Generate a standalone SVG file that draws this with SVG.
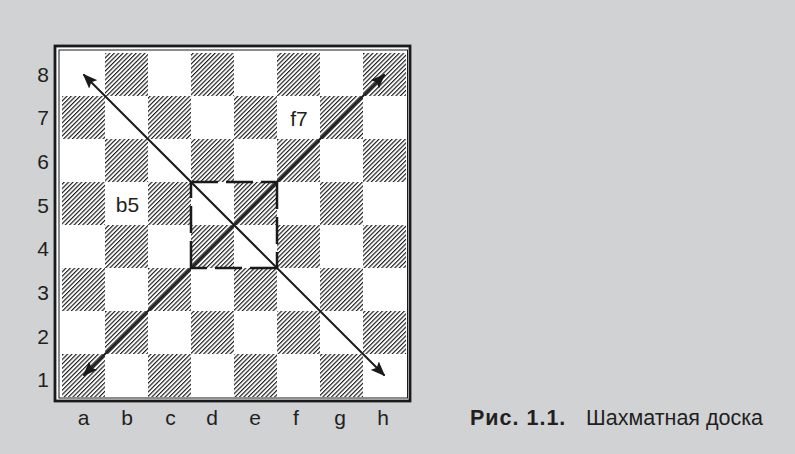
<svg xmlns="http://www.w3.org/2000/svg" width="795" height="454" viewBox="0 0 795 454">
<style>
.lbl{font-family:"Liberation Sans",Arial,sans-serif;font-size:21px;fill:#231f20;text-anchor:middle}
.cap{font-family:"Liberation Sans",Arial,sans-serif;font-size:21.5px;fill:#231f20}
.d{fill:url(#hatch)}
</style>
<defs>
<pattern id="hatch" width="3.1" height="10" patternUnits="userSpaceOnUse" patternTransform="rotate(45)">
<rect width="1.15" height="10" fill="#1a1a1a"/>
</pattern>
<marker id="ah" viewBox="0 0 15 12" refX="14" refY="6" markerWidth="15" markerHeight="12" markerUnits="userSpaceOnUse" orient="auto-start-reverse">
<path d="M0,0 L15,6 L0,12 L3,6 z" fill="#1a1a1a"/>
</marker>
</defs>
<rect width="795" height="454" fill="#d1d2d4"/>
<g id="frame">
<rect x="55" y="46" width="355" height="355" fill="#fff" stroke="#1a1a1a" stroke-width="2.8"/>
<rect x="59" y="50" width="348.5" height="348" fill="none" stroke="#1a1a1a" stroke-width="1"/>
</g>
<g id="board">
<rect x="62" y="53" width="344" height="344" fill="#fff"/>
<rect class="d" x="105" y="53" width="43" height="43"/>
<rect class="d" x="191" y="53" width="43" height="43"/>
<rect class="d" x="277" y="53" width="43" height="43"/>
<rect class="d" x="363" y="53" width="43" height="43"/>
<rect class="d" x="62" y="96" width="43" height="43"/>
<rect class="d" x="148" y="96" width="43" height="43"/>
<rect class="d" x="234" y="96" width="43" height="43"/>
<rect class="d" x="320" y="96" width="43" height="43"/>
<rect class="d" x="105" y="139" width="43" height="43"/>
<rect class="d" x="191" y="139" width="43" height="43"/>
<rect class="d" x="277" y="139" width="43" height="43"/>
<rect class="d" x="363" y="139" width="43" height="43"/>
<rect class="d" x="62" y="182" width="43" height="43"/>
<rect class="d" x="148" y="182" width="43" height="43"/>
<rect class="d" x="234" y="182" width="43" height="43"/>
<rect class="d" x="320" y="182" width="43" height="43"/>
<rect class="d" x="105" y="225" width="43" height="43"/>
<rect class="d" x="191" y="225" width="43" height="43"/>
<rect class="d" x="277" y="225" width="43" height="43"/>
<rect class="d" x="363" y="225" width="43" height="43"/>
<rect class="d" x="62" y="268" width="43" height="43"/>
<rect class="d" x="148" y="268" width="43" height="43"/>
<rect class="d" x="234" y="268" width="43" height="43"/>
<rect class="d" x="320" y="268" width="43" height="43"/>
<rect class="d" x="105" y="311" width="43" height="43"/>
<rect class="d" x="191" y="311" width="43" height="43"/>
<rect class="d" x="277" y="311" width="43" height="43"/>
<rect class="d" x="363" y="311" width="43" height="43"/>
<rect class="d" x="62" y="354" width="43" height="43"/>
<rect class="d" x="148" y="354" width="43" height="43"/>
<rect class="d" x="234" y="354" width="43" height="43"/>
<rect class="d" x="320" y="354" width="43" height="43"/>
</g>
<g id="center-square" fill="none" stroke="#1a1a1a" stroke-width="2.5" stroke-dasharray="27 8">
<path d="M191,182 H277"/>
<path d="M277,182 V268"/>
<path d="M277,268 H191"/>
<path d="M191,268 V182"/>
</g>
<g id="connectors" stroke="#1a1a1a" stroke-width="2" fill="none">
<line x1="83.5" y1="375.5" x2="384.5" y2="74.5" marker-start="url(#ah)" marker-end="url(#ah)"/>
<line x1="83.5" y1="74.5" x2="384.5" y2="375.5" marker-start="url(#ah)" marker-end="url(#ah)"/>
</g>
<g id="square-labels">
<text class="lbl" x="127.5" y="212">b5</text>
<text class="lbl" x="299" y="126">f7</text>
</g>
<g id="rank-labels">
<text class="lbl" x="43" y="81.5">8</text>
<text class="lbl" x="43" y="125">7</text>
<text class="lbl" x="43" y="169">6</text>
<text class="lbl" x="43" y="212.5">5</text>
<text class="lbl" x="43" y="256">4</text>
<text class="lbl" x="43" y="299.5">3</text>
<text class="lbl" x="43" y="343.5">2</text>
<text class="lbl" x="43" y="387">1</text>
</g>
<g id="file-labels">
<text class="lbl" x="83.5" y="425">a</text>
<text class="lbl" x="127" y="425">b</text>
<text class="lbl" x="170.5" y="425">c</text>
<text class="lbl" x="212" y="425">d</text>
<text class="lbl" x="255" y="425">e</text>
<text class="lbl" x="296" y="425">f</text>
<text class="lbl" x="340" y="425">g</text>
<text class="lbl" x="383" y="425">h</text>
</g>
<g id="caption">
<text class="cap" x="470" y="425"><tspan font-weight="bold" letter-spacing="1">Рис. 1.1.</tspan><tspan x="586">Шахматная доска</tspan></text>
</g>
</svg>
